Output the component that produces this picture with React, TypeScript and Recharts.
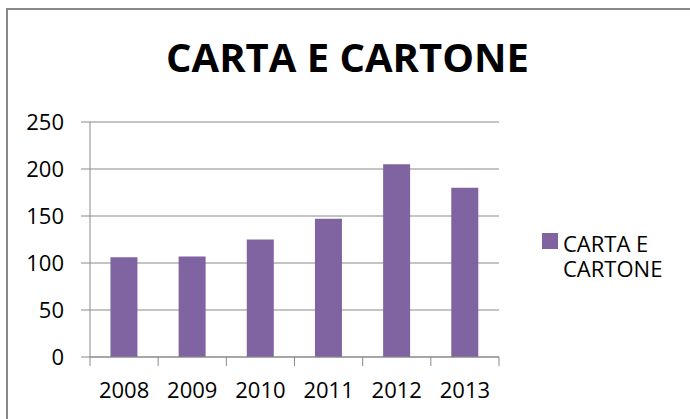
import React from 'react';
import { BarChart, Bar, XAxis, YAxis, CartesianGrid, Legend } from 'recharts';

const categories = ['2008', '2009', '2010', '2011', '2012', '2013'];
const values = [106, 107, 125, 147, 205, 180];
const yTicks = [0, 50, 100, 150, 200, 250];
const seriesName = 'CARTA E CARTONE';
const title = 'CARTA E CARTONE';

const data = categories.map((c, i) => ({ year: c, value: values[i] }));

const FONT = '"Open Sans", sans-serif';
const GRAY = '#898989';
const PURPLE = '#8064A2';
const X_TICK_MARGIN = 25;
const X_TICK_LEN = 9;
const TICK_FONT = 22;

const renderLegend = (props: any) => {
  const { payload } = props;
  return (
    <div style={{ fontFamily: FONT, fontSize: 22, lineHeight: '25px', color: '#000' }}>
      {(payload || []).map((entry: any, idx: number) => (
        <div key={idx} style={{ display: 'flex', alignItems: 'flex-start' }}>
          <div
            style={{
              width: 16,
              height: 16,
              background: entry.color,
              marginTop: 2,
              marginRight: 5,
              flex: '0 0 auto',
            }}
          />
          <div style={{ width: 105 }}>{entry.value}</div>
        </div>
      ))}
    </div>
  );
};

const CategoryTick = (props: any) => {
  const { x, y, payload, index, visibleTicksCount } = props;
  const half = payload && payload.offset ? payload.offset : 0;
  const axisY = y - X_TICK_MARGIN;
  const isLast = index === visibleTicksCount - 1;
  return (
    <g>
      <line x1={x - half} y1={axisY} x2={x - half} y2={axisY + X_TICK_LEN} stroke={GRAY} strokeWidth={1} />
      {isLast && (
        <line x1={x + half} y1={axisY} x2={x + half} y2={axisY + X_TICK_LEN} stroke={GRAY} strokeWidth={1} />
      )}
      <text
        x={x}
        y={y}
        dy="0.71em"
        textAnchor="middle"
        fill="#000"
        fontSize={TICK_FONT}
        fontFamily={FONT}
      >
        {payload.value}
      </text>
    </g>
  );
};

export default function App() {
  return (
    <div
      style={{
        position: 'relative',
        marginLeft: -2,
        width: 684,
        height: 411,
        background: '#fff',
      }}
    >
      <style>{`html, body { overflow: hidden; }`}</style>
      <div
        style={{
          position: 'fixed',
          left: 6,
          top: 8,
          width: 700,
          height: 420,
          borderLeft: `2px solid ${GRAY}`,
          borderTop: `2px solid ${GRAY}`,
          zIndex: 3,
          pointerEvents: 'none',
        }}
      />
      <div
        style={{
          position: 'absolute',
          top: 29,
          left: 2,
          width: 679,
          textAlign: 'center',
          fontFamily: FONT,
          fontWeight: 700,
          fontSize: 40,
          lineHeight: '40px',
          color: '#000',
          zIndex: 2,
        }}
      >
        {title}
      </div>
      <div style={{ position: 'absolute', left: 2, top: 2 }}>
        <BarChart
          width={682}
          height={409}
          data={data}
          margin={{ top: 112, right: 191, bottom: 22, left: 0 }}
          barCategoryGap="30%"
        >
          <CartesianGrid vertical={false} stroke={GRAY} strokeWidth={1} />
          <XAxis
            dataKey="year"
            type="category"
            axisLine={{ stroke: GRAY }}
            tickLine={false}
            tickSize={0}
            tickMargin={X_TICK_MARGIN}
            height={40}
            interval={0}
            tick={CategoryTick}
          />
          <YAxis
            domain={[0, 250]}
            ticks={yTicks}
            width={82}
            axisLine={{ stroke: GRAY }}
            tickLine={{ stroke: GRAY }}
            tickSize={9}
            tickMargin={17}
            interval={0}
            tick={{ fill: '#000', fontSize: TICK_FONT, fontFamily: FONT }}
          />
          <Legend
            layout="horizontal"
            align="center"
            verticalAlign="middle"
            content={renderLegend}
            wrapperStyle={{ left: 534, top: 221, width: 130, height: 'auto' }}
          />
          <Bar dataKey="value" name={seriesName} fill={PURPLE} isAnimationActive={false} />
        </BarChart>
      </div>
    </div>
  );
}
